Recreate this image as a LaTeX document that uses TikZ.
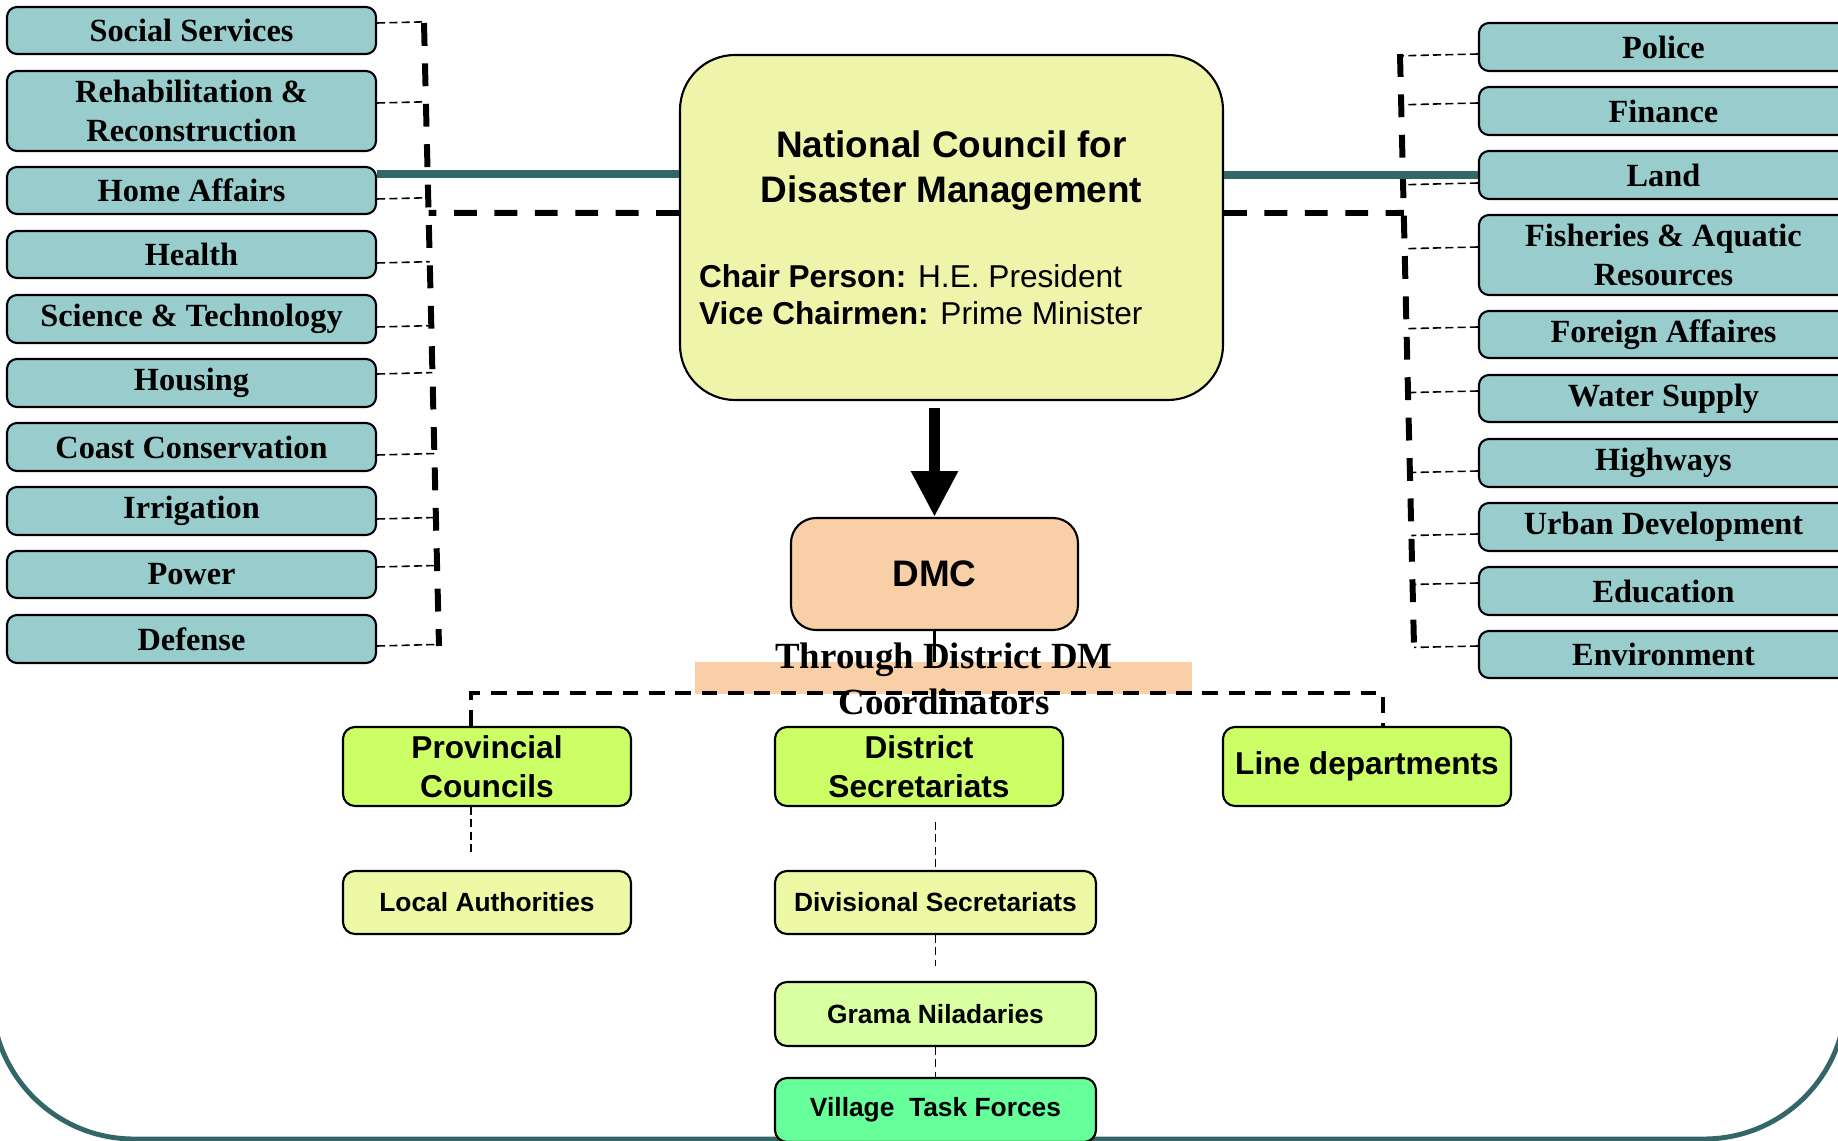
\documentclass[tikz,border=0pt]{standalone}
\usepackage{fontspec}
\setmainfont{Liberation Sans}
\newfontfamily\timesfont{Liberation Serif}
\usepackage{xcolor}
\usepackage{tikz}
\usetikzlibrary{arrows.meta, positioning, calc}

\definecolor{deptfill}{HTML}{99CCCC}
\definecolor{ncfill}{HTML}{EEF4AA}
\definecolor{dmcfill}{HTML}{F8CFA6}
\definecolor{limefill}{HTML}{CCFF66}
\definecolor{palefill}{HTML}{EEF9A6}
\definecolor{gnfill}{HTML}{D8FFA0}
\definecolor{vtffill}{HTML}{66FF99}
\definecolor{framecol}{HTML}{336666}

\begin{document}
\begin{tikzpicture}[
  dept/.style = {draw, line width = 0.6pt, rounded corners = 0.1cm, fill = deptfill, minimum width = 3.69cm, align = center, inner sep = 1pt, font = \timesfont\bfseries\fontsize{9.2}{11}\selectfont},
  unit/.style = {draw, line width = 0.6pt, rounded corners = 0.12cm, align = center, inner sep = 1pt, font = \bfseries\fontsize{9}{11}\selectfont},
  subunit/.style = {unit, font = \bfseries\fontsize{7.5}{9}\selectfont},
  thin dash/.style = {line width = 0.45pt, dash pattern = on 2.3pt off 1.2pt},
  thick dash/.style = {line width = 1.7pt, dash pattern = on 6.5pt off 5pt},
  mid dash/.style = {line width = 1.1pt, dash pattern = on 4.5pt off 3pt},
  teal line/.style = {line width = 2pt, framecol},
  big arrow/.style = {line width = 3.4pt, -{Triangle[width = 12.5pt, length = 13pt]}}
]
\useasboundingbox (0, 0) rectangle (18.38, -11.41);
\clip (0, 0) rectangle (18.38, -11.41);

% frame of the slide
\draw[line width = 1.4pt, framecol, rounded corners = 1.42cm] (-0.08, 3) rectangle (18.46, -11.39);

% ministries
\foreach \n/\y/\h/\t in {soc/0.305/0.47/Social Services, reh/1.11/0.8/{Rehabilitation \&\\ Reconstruction}, home/1.905/0.47/Home Affairs, hlth/2.545/0.47/Health, sci/3.19/0.48/Science \& Technology, hous/3.83/0.48/Housing, coast/4.47/0.48/Coast Conservation, irr/5.11/0.48/Irrigation, pow/5.745/0.47/Power, def/6.39/0.48/Defense}
{\node[dept, minimum height = \h cm] at (1.915, -\y) (\n) {\t};}
\foreach \n/\y/\h/\t in {pol/0.47/0.48/Police, fin/1.11/0.48/Finance, land/1.75/0.48/Land, fish/2.55/0.8/{Fisheries \& Aquatic\\ Resources}, forg/3.345/0.47/Foreign Affaires, wat/3.985/0.47/Water Supply, hwy/4.63/0.48/Highways, urb/5.27/0.48/Urban Development, edu/5.91/0.48/Education, env/6.545/0.47/Environment}
{\node[dept, minimum height = \h cm] at (16.635, -\y) (\n) {\t};}

% council
\node[draw, line width = 0.6pt, rounded corners = 0.55cm, fill = ncfill, minimum width = 5.43cm, minimum height = 3.45cm, inner sep = 0pt] at (9.515, -2.275) (nc) {\parbox{5.05cm}{\centering\fontsize{10.5}{12.8}\selectfont\bfseries National Council for\\ Disaster Management\par\vspace{13.7pt}\raggedright\fontsize{9}{10.5}\selectfont\textbf{Chair Person:} \mdseries H.E. President\\ \textbf{Vice Chairmen:} \mdseries Prime Minister}};
\node[draw, line width = 0.6pt, rounded corners = 0.25cm, fill = dmcfill, minimum width = 2.87cm, minimum height = 1.12cm, font = \bfseries\fontsize{10.5}{12.8}\selectfont] at (9.345, -5.74) (dmc) {DMC};

% vertical bars
\coordinate (ltop) at (4.24, -0.23);
\coordinate (lbot) at (4.39, -6.46);
\coordinate (rtop) at (14.00, -0.54);
\coordinate (rbot) at (14.14, -6.46);
\foreach \n/\d in {soc/0.075, reh/0.08, home/-0.085, hlth/-0.085, sci/-0.08, hous/0.09, coast/-0.08, irr/-0.08, pow/0.075, def/-0.07}
{\draw[thin dash] ([yshift = \d cm]\n.east) -- ($(ltop)!([yshift = \d cm]\n.east)!(lbot)$);}
\foreach \n/\d in {pol/-0.07, fin/0.08, land/-0.08, fish/0.08, forg/0.075, wat/0.075, hwy/-0.08, urb/-0.07, edu/0.08, env/0.085}
{\draw[thin dash] ([yshift = \d cm]\n.west) -- ($(rtop)!([yshift = \d cm]\n.west)!(rbot)$);}
\draw[thick dash] (ltop) -- (lbot);
\draw[thick dash] (rtop) -- (rbot);
\coordinate (lh) at ([yshift = 0.145cm]nc.west);
\coordinate (lhx) at ([xshift = -1cm]lh);
\coordinate (rh) at ([yshift = 0.145cm]nc.east);
\coordinate (rhx) at ([xshift = 1cm]rh);
\draw[thick dash] (lh) -- (intersection of ltop--lbot and lh--lhx);
\draw[thick dash] (rh) -- (intersection of rtop--rbot and rh--rhx);
\draw[teal line] ([yshift = 0.165cm]home.east) -- ([yshift = 0.165cm]home.east -| nc.west);
\draw[teal line] (land.west) -- (land.west -| nc.east);

\draw[big arrow] ([yshift = -0.07cm]dmc.north |- nc.south) -- (dmc.north);

% district level
\node[unit, fill = limefill, minimum width = 2.88cm, minimum height = 0.79cm] at (4.87, -7.665) (pc) {Provincial\\ Councils};
\node[unit, fill = limefill, minimum width = 2.88cm, minimum height = 0.79cm] at (9.19, -7.665) (ds) {District\\ Secretariats};
\node[unit, fill = limefill, minimum width = 2.88cm, minimum height = 0.79cm] at (13.67, -7.665) (ld) {Line departments};
\node[subunit, fill = palefill, minimum width = 2.88cm, minimum height = 0.63cm] at (4.87, -9.025) (la) {Local Authorities};
\node[subunit, fill = palefill, minimum width = 3.21cm, minimum height = 0.63cm] at (9.355, -9.025) (divs) {Divisional Secretariats};
\node[subunit, fill = gnfill, minimum width = 3.21cm, minimum height = 0.64cm] at (9.355, -10.14) (gn) {Grama Niladaries};
\node[subunit, fill = vtffill, minimum width = 3.21cm, minimum height = 0.64cm] at (9.355, -11.10) (vtf) {Village\ \ Task Forces};

\draw[line width = 0.6pt] (dmc.south) -- ++(0, -0.32);
\node[fill = dmcfill, minimum width = 4.97cm, minimum height = 0.32cm, inner sep = 0pt] at (9.435, -6.78) (tband) {};
\draw[mid dash] ([xshift = -0.16cm]pc.north) -- ++(0, 0.33) -| ([xshift = 0.16cm]ld.north);
\node[align = center, inner sep = 0pt, font = \timesfont\bfseries\fontsize{10.5}{13}\selectfont] at (9.44, -6.79) (thru) {Through District DM\\ Coordinators};

\draw[thin dash, shorten >= 0.15cm] ([xshift = -0.16cm]pc.south) -- ([xshift = -0.16cm]la.north);
\draw[thin dash, shorten <= 0.15cm] (divs.north |- ds.south) -- (divs.north);
\draw[thin dash, shorten >= 0.15cm] (divs.south) -- (gn.north);
\draw[thin dash] (gn.south) -- (vtf.north);
\end{tikzpicture}
\end{document}
